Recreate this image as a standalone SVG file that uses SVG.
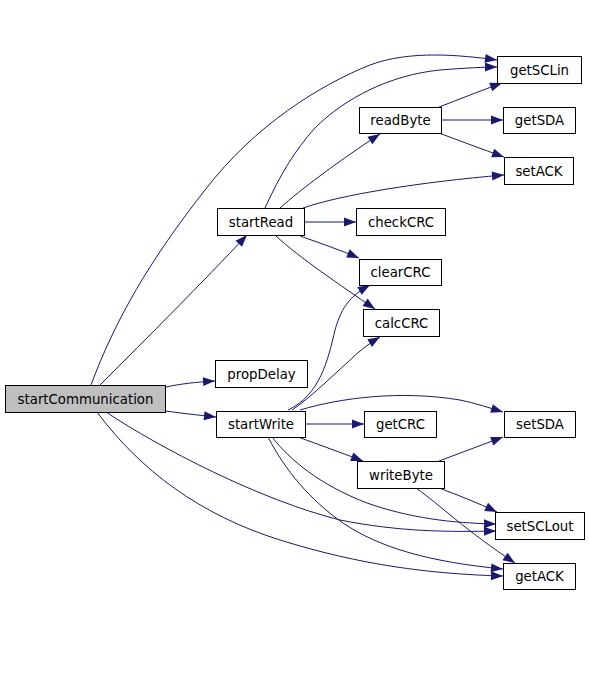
<svg xmlns="http://www.w3.org/2000/svg" width="589" height="696" viewBox="0 0 589 696">
<style>
.n rect{fill:#ffffff;stroke:#000000;stroke-width:1}
.n.root rect{fill:#bfbfbf}
.n text{font-family:"DejaVu Sans","Liberation Sans",sans-serif;font-size:13.3px;fill:#000000;text-anchor:middle}
#edges path{fill:none;stroke:#191970;stroke-width:1;marker-end:url(#arr)}
</style>
<defs>
<marker id="arr" markerUnits="userSpaceOnUse" markerWidth="12" markerHeight="10" refX="12" refY="5" orient="auto" overflow="visible">
<path d="M0,0.5 L12,5 L0,9.5 Z" fill="#191970"/>
</marker>
</defs>
<rect width="589" height="696" fill="#ffffff"/>
<g id="edges">
<path d="M91,385 C115,320 150,260 205,190 C255,125 320,85 370,65 C410,50 460,55 497,60"/>
<path d="M100,385 C150,335 200,285 247,235"/>
<path d="M166,387 C180,384 196,382 215,381"/>
<path d="M166,411 C180,413 197,415 216,417"/>
<path d="M106,412 C160,448 260,500 340,520 C400,532 450,532 496,531"/>
<path d="M97,412 C140,470 200,515 280,540 C360,565 430,574 503,576"/>
<path d="M265,208 C280,175 295,150 315,128 C345,98 390,75 440,70 C465,68 485,67 497,67"/>
<path d="M280,208 C300,190 340,160 380,134"/>
<path d="M303,208 C340,195 420,182 504,175"/>
<path d="M304,222 L356,222"/>
<path d="M300,236 C320,243 340,250 359,258"/>
<path d="M276,236 C300,258 340,285 375,309"/>
<path d="M439,107 C460,99 480,91 502,83"/>
<path d="M441,120 L503,120"/>
<path d="M439,133 C460,141 482,149 504,157"/>
<path d="M288,410 C320,395 328,360 335,330 C342,305 352,295 370,285"/>
<path d="M292,410 C310,398 330,378 348,362 C358,352 368,344 380,337"/>
<path d="M300,410 C340,398 400,390 460,400 C475,403 490,408 503,412"/>
<path d="M305,424 L364,424"/>
<path d="M298,437 C320,445 342,453 363,461"/>
<path d="M272,437 C290,460 320,485 367,503 C410,518 450,523 496,524"/>
<path d="M268,437 C285,470 310,500 343,523 C380,548 430,562 503,569"/>
<path d="M439,461 C460,453 482,445 503,437"/>
<path d="M439,488 C458,495 478,503 497,512"/>
<path d="M416,488 C440,505 465,530 515,563"/>
</g>
<g id="startCommunication" class="n root"><rect x="5.5" y="385.5" width="160" height="27"/><text x="85.5" y="403.8">startCommunication</text></g>
<g id="propDelay" class="n"><rect x="215.5" y="360.5" width="92" height="27"/><text x="261.5" y="378.8">propDelay</text></g>
<g id="startWrite" class="n"><rect x="216.5" y="411.5" width="89" height="26"/><text x="261" y="429.3">startWrite</text></g>
<g id="getCRC" class="n"><rect x="364.5" y="411.5" width="72" height="26"/><text x="400.5" y="429.3">getCRC</text></g>
<g id="setSDA" class="n"><rect x="504.5" y="411.5" width="71" height="26"/><text x="540" y="429.3">setSDA</text></g>
<g id="writeByte" class="n"><rect x="357.5" y="461.5" width="87" height="27"/><text x="401" y="479.8">writeByte</text></g>
<g id="setSCLout" class="n"><rect x="495.5" y="512.5" width="89" height="27"/><text x="540" y="530.8">setSCLout</text></g>
<g id="getACK" class="n"><rect x="503.5" y="563.5" width="72" height="26"/><text x="539.5" y="581.3">getACK</text></g>
<g id="startRead" class="n"><rect x="217.5" y="208.5" width="87" height="27"/><text x="261" y="226.8">startRead</text></g>
<g id="checkCRC" class="n"><rect x="356.5" y="208.5" width="89" height="27"/><text x="401" y="226.8">checkCRC</text></g>
<g id="clearCRC" class="n"><rect x="359.5" y="259.5" width="82" height="26"/><text x="400.5" y="277.3">clearCRC</text></g>
<g id="calcCRC" class="n"><rect x="363.5" y="309.5" width="76" height="27"/><text x="401.5" y="327.8">calcCRC</text></g>
<g id="readByte" class="n"><rect x="359.5" y="107.5" width="82" height="26"/><text x="400.5" y="125.3">readByte</text></g>
<g id="getSCLin" class="n"><rect x="497.5" y="56.5" width="84" height="27"/><text x="539.5" y="74.8">getSCLin</text></g>
<g id="getSDA" class="n"><rect x="503.5" y="107.5" width="72" height="26"/><text x="539.5" y="125.3">getSDA</text></g>
<g id="setACK" class="n"><rect x="504.5" y="157.5" width="69" height="27"/><text x="539" y="175.8">setACK</text></g>
</svg>
